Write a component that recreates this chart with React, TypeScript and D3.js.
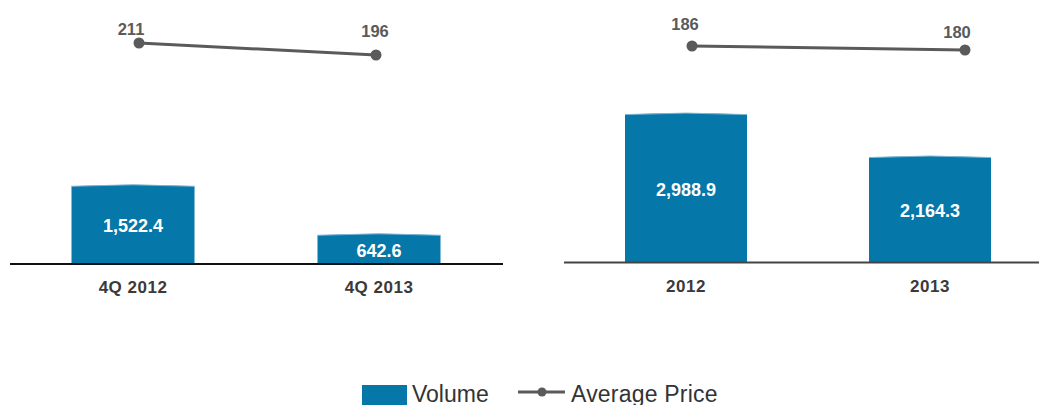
import React, { useEffect, useRef } from 'react';
import * as d3 from 'd3';

// quarterly panel
const quarterCategories = ['4Q 2012', '4Q 2013'];
const quarterVolume = [1522.4, 642.6];
const quarterPrice = [211, 196];

// annual panel
const yearCategories = ['2012', '2013'];
const yearVolume = [2988.9, 2164.3];
const yearPrice = [186, 180];

const legendLabels = ['Volume', 'Average Price'];

const BAR_COLOR = '#0677a9';
const LINE_COLOR = '#5a5a5a';

function App() {
  const svgRef = useRef<SVGSVGElement>(null);

  useEffect(() => {
    const svg = d3.select(svgRef.current);
    svg.selectAll('*').remove();
    svg.style('font-family', 'Liberation Sans, Arial, sans-serif');

    const panels = [
      {
        cats: quarterCategories, vol: quarterVolume, price: quarterPrice,
        xRange: [10, 502], axisEnd: 503, base: 264, axisColor: '#111',
        barDomain: [100, 3000], barTop: 102.5,
        lineX: [139, 376], priceDomain: [196, 211], priceRange: [55, 43],
        labelDx: [-8, -1], labelDy: [-8, -18], catY: 293,
      },
      {
        cats: yearCategories, vol: yearVolume, price: yearPrice,
        xRange: [564, 1052], axisEnd: 1039, base: 262.5, axisColor: '#444',
        barDomain: [120, 3000], barTop: 112.5,
        lineX: [692, 965], priceDomain: [180, 186], priceRange: [50, 46],
        labelDx: [-7, -8], labelDy: [-16, -12], catY: 292,
      },
    ];

    panels.forEach((p) => {
      const g = svg.append('g');
      const x = d3.scaleBand().domain(p.cats).range(p.xRange as [number, number]).paddingInner(0.5).paddingOuter(0.25);
      const y = d3.scaleLinear().domain(p.barDomain).range([p.base, p.barTop]);
      const bw = x.bandwidth();

      // bars with slightly arched tops
      p.vol.forEach((v, i) => {
        const x0 = x(p.cats[i])!;
        const top = y(v);
        const path = d3.path();
        path.moveTo(x0, p.base);
        path.lineTo(x0, top + 1.5);
        path.quadraticCurveTo(x0 + bw / 2, top - 1.5, x0 + bw, top + 1.5);
        path.lineTo(x0 + bw, p.base);
        path.closePath();
        g.append('path').attr('d', path.toString()).attr('fill', BAR_COLOR);
        g.append('path')
          .attr('d', `M${x0},${top + 1.5}Q${x0 + bw / 2},${top - 1.5} ${x0 + bw},${top + 1.5}`)
          .attr('fill', 'none').attr('stroke', '#7fb6d2').attr('stroke-width', 1);

        g.append('text')
          .attr('x', x0 + bw / 2)
          .attr('y', (top + p.base) / 2 + 2)
          .attr('text-anchor', 'middle')
          .attr('dominant-baseline', 'central')
          .attr('fill', '#fff')
          .attr('font-weight', 'bold')
          .attr('font-size', 18)
          .text(d3.format(',.1f')(v));

        g.append('text')
          .attr('x', x0 + bw / 2)
          .attr('y', p.catY)
          .attr('text-anchor', 'middle')
          .attr('fill', '#3a3a3a')
          .attr('font-weight', 'bold')
          .attr('font-size', 17)
          .attr('letter-spacing', 0.5)
          .text(p.cats[i]);
      });

      // baseline axis
      g.append('line')
        .attr('x1', p.xRange[0]).attr('x2', p.axisEnd)
        .attr('y1', p.base).attr('y2', p.base)
        .attr('stroke', p.axisColor).attr('stroke-width', 2);

      // average price line
      const lx = d3.scalePoint().domain(p.cats).range(p.lineX as [number, number]);
      const ly = d3.scaleLinear().domain(p.priceDomain).range(p.priceRange);
      const line = d3.line<number>().x((_, i) => lx(p.cats[i])!).y((d) => ly(d));
      g.append('path')
        .attr('d', line(p.price))
        .attr('fill', 'none')
        .attr('stroke', LINE_COLOR)
        .attr('stroke-width', 3);
      p.price.forEach((v, i) => {
        g.append('circle')
          .attr('cx', lx(p.cats[i])!).attr('cy', ly(v)).attr('r', 5.5)
          .attr('fill', LINE_COLOR);
        g.append('text')
          .attr('x', lx(p.cats[i])! + p.labelDx[i])
          .attr('y', ly(v) + p.labelDy[i])
          .attr('text-anchor', 'middle')
          .attr('fill', LINE_COLOR)
          .attr('font-weight', 'bold')
          .attr('font-size', 16.5)
          .text(v);
      });
    });

    // legend
    const lg = svg.append('g');
    lg.append('rect').attr('x', 362).attr('y', 385).attr('width', 45).attr('height', 20).attr('fill', BAR_COLOR);
    lg.append('text').attr('x', 412).attr('y', 402).attr('font-size', 23).attr('fill', '#333')
      .text(legendLabels[0]);
    lg.append('line').attr('x1', 518).attr('x2', 565).attr('y1', 392).attr('y2', 392)
      .attr('stroke', LINE_COLOR).attr('stroke-width', 3);
    lg.append('circle').attr('cx', 542).attr('cy', 392).attr('r', 4.5).attr('fill', LINE_COLOR);
    lg.append('text').attr('x', 571).attr('y', 402).attr('font-size', 23).attr('fill', '#333')
      .attr('letter-spacing', 0.2).text(legendLabels[1]);
  }, []);

  return (
    <div style={{ position: 'absolute', left: 0, top: 0 }}>
      <svg ref={svgRef} width={1039} height={405} style={{ display: 'block' }} />
    </div>
  );
}

export default App;
